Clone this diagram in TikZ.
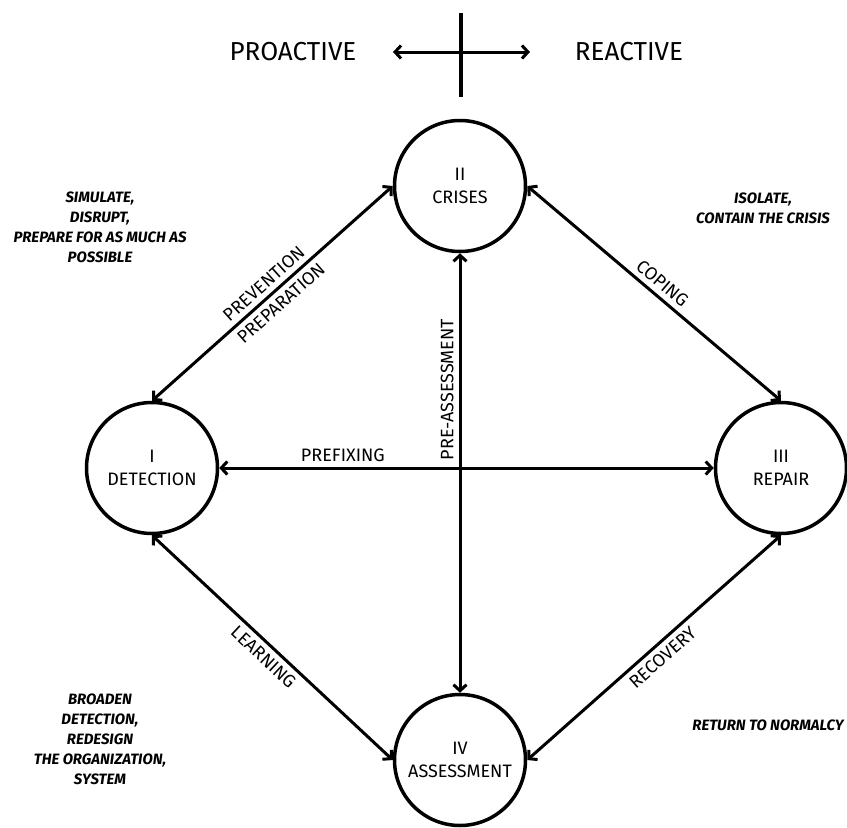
\documentclass[tikz,border=0pt]{standalone}
\usepackage{fontspec}
\setmainfont{Fira Sans}
\usetikzlibrary{positioning,calc,arrows.meta}
\tikzset{phase/.style={draw,circle,line width=3.5pt,minimum size=131pt,inner sep=0pt,align=center,font=\fontsize{18}{23}\selectfont}  }
\tikzset{link/.style={line width=3pt,<->}  }
\tikzset{lbl/.style={font=\fontsize{18}{20}\selectfont,sloped,inner sep=5pt}  }
\tikzset{note/.style={align=center,font=\fontsize{15}{20}\selectfont\bfseries\itshape}  }
\tikzset{side/.style={font=\fontsize{26}{30}\selectfont}  }
\tikzset{>={Straight Barb[length=6pt,width=13pt]}}

\begin{document}
\begin{tikzpicture}[x=1pt,y=-1pt]
	\useasboundingbox (0,0) rectangle (847,828);
		\node[phase] (crises) at (460,186) {II\\CRISES};
		\node[phase] (detect) at (152,468) {I\\DETECTION};
		\node[phase] (repair) at (781,468) {III\\REPAIR};
		\node[phase] (assess) at (460,760) {IV\\ASSESSMENT};
			\coordinate (up) at (461,13);
			\coordinate (down) at (461,97);
			\coordinate (left) at (393,52);
			\coordinate (right) at (530,52);
		\node[side] (pro) at (293,52) {PROACTIVE};
		\node[side] (re) at (629,52) {REACTIVE};
	\draw[line width=3.5pt] (up)--(down);
	\draw[link] (left)--(right);
	\draw[link] (crises.west) -- node[lbl,above]{PREVENTION} node[lbl,below]{PREPARATION}(detect.north);
	\draw[link] (crises.east) -- node[lbl,above]{COPING}(repair.north);
	\draw[link] (detect.south) -- node[lbl,below]{LEARNING}(assess.west);
	\draw[link] (repair.south) -- node[lbl,below]{RECOVERY}(assess.east);
	\draw[link] (detect.east) -- node[lbl,above,pos=0.25]{PREFIXING}(repair.west);
	\draw[link] (assess.north) -- node[lbl,above,pos=0.69]{PRE-ASSESSMENT}(crises.south);
		\node[note] (n1) at (100,227) {SIMULATE,\\DISRUPT,\\PREPARE FOR AS MUCH AS\\POSSIBLE};
		\node[note] (n2) at (763,208) {ISOLATE,\\CONTAIN THE CRISIS};
		\node[note] (n3) at (100,739) {BROADEN\\DETECTION,\\REDESIGN\\THE ORGANIZATION,\\SYSTEM};
		\node[note] (n4) at (768,725) {RETURN TO NORMALCY};
	\end{tikzpicture}
\end{document}
